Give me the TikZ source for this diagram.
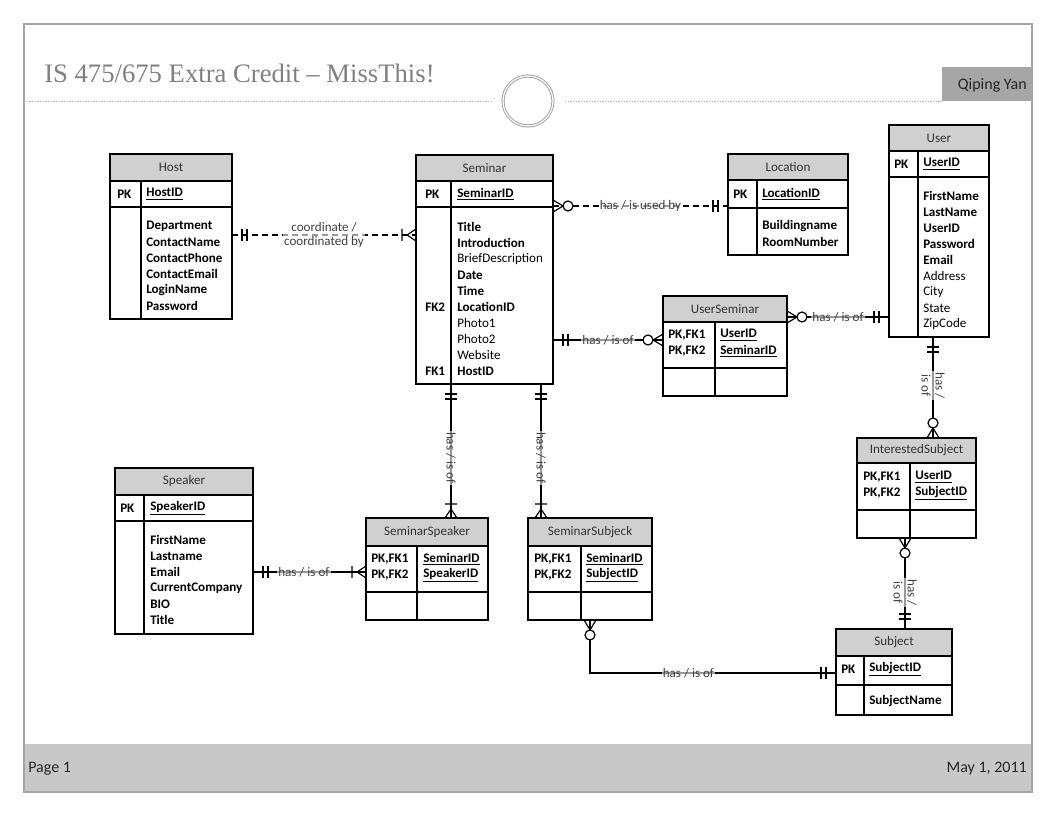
\documentclass[tikz,border=0pt]{standalone}
\usepackage{fontspec}
\setmainfont{Carlito}
\newfontfamily\titlefont{Liberation Serif}
\usetikzlibrary{calc,fit}

\definecolor{headfill}{HTML}{D0D0D0}
\definecolor{footfill}{HTML}{C8C8C8}
\definecolor{namefill}{HTML}{A6A6A6}
\definecolor{titlegray}{HTML}{808080}
\definecolor{labelgray}{HTML}{404040}

\tikzset{
  tblline/.style={draw=black, line width=0.9pt},
  headtext/.style={inner sep=0pt, text=black!80, font=\fontsize{9.8}{12}\selectfont},
  keytext/.style={anchor=west, inner sep=0pt, font=\fontsize{9.8}{12}\selectfont\bfseries},
  plaintext/.style={anchor=west, inner sep=0pt, font=\fontsize{9.8}{12}\selectfont},
  rel/.style={draw=black, line width=0.9pt},
  reldash/.style={rel, dash pattern=on 4.5pt off 3pt},
  lbl/.style={fill=white, fill opacity=0.6, text opacity=1, text=labelgray, inner sep=1pt,
    font=\fontsize{9.8}{10.5}\selectfont},
  endline/.style={draw=black, line width=0.9pt},
  mandone/.pic={\draw[endline] (10,-6) -- (10,6) (15,-6) -- (15,6);},
  onemany/.pic={\draw[endline] (0,-6) -- (9,0) -- (0,6) (14,-6) -- (14,6);},
  zeromany/.pic={\draw[endline] (0,-6) -- (10,0) -- (0,6);
    \draw[endline, fill=white] (15,0) circle[radius=5];},
}

% name, title, x1, y1, x2, y2, header bottom, key row bottom, divider
\newcommand{\entity}[9]{%
  \node[fit={(#3,#4) (#5,#6)}, inner sep=0pt, outer sep=0pt] (#1) {};
  \fill[headfill] (#3,#4) rectangle (#5,#7);
  \draw[tblline] (#3,#7) -- (#5,#7) (#3,#8) -- (#5,#8) (#9,#7) -- (#9,#6);
  \draw[tblline] (#3,#4) rectangle (#5,#6);
  \node[headtext] at ({(#3+#5)/2},{(#4+#7)/2}) {#2};
}

\begin{document}
\begin{tikzpicture}[x=0.75pt, y=-0.75pt]
  \useasboundingbox (0,0) rectangle (1056,816);

  % Page
  \fill[footfill] (24,744) rectangle (1032,792);
  \node[anchor=base west, inner sep=0pt, text=titlegray, font=\titlefont\fontsize{20}{24}\selectfont]
    (title) at (44,83) {IS 475/675 Extra Credit – MissThis!};
  \draw[gray!60, line width=0.5pt, dash pattern=on 1pt off 1pt] (24,101) -- (491,101);
  \draw[gray!60, line width=0.5pt, dash pattern=on 1pt off 1pt] (565,101) -- (942,101);
  \draw[gray!75, line width=0.7pt, double=white, double distance=0.9pt] (528,101) circle[radius=25];
  \fill[namefill] (942,67) rectangle (1032,101);
  \node[anchor=east, inner sep=0pt, text=black!85, font=\fontsize{12}{14}\selectfont]
    (author) at (1027,85) {Qiping Yan};
  \node[anchor=west, inner sep=0pt, text=black!85, font=\fontsize{12}{14}\selectfont]
    (page) at (28,769) {Page 1};
  \node[anchor=east, inner sep=0pt, text=black!85, font=\fontsize{12}{14}\selectfont]
    (date) at (1027,769) {May 1, 2011};
  \draw[gray!70, line width=0.8pt] (24,24) rectangle (1032,792);

  % Tables
  \entity{host}{Host}{110}{154}{232}{319}{181}{207}{141}
  \node[keytext] at (117,194) {PK};
  \node[keytext] at (146,194) {\underline{HostID}};
  \foreach \a [count=\i from 0] in {Department,ContactName,ContactPhone,ContactEmail,LoginName,Password}
    \node[keytext] at (146,{226+16*\i}) {\a};

  \entity{seminar}{Seminar}{416}{155}{553}{384}{181}{207}{451}
  \node[keytext] at (425,194) {PK};
  \node[keytext] at (457,194) {\underline{SeminarID}};
  \foreach \a [count=\i from 0] in {\textbf{Title},\textbf{Introduction},BriefDescription,\textbf{Date},
      \textbf{Time},\textbf{LocationID},Photo1,Photo2,Website,\textbf{HostID}}
    \node[plaintext] at (457,{227+16*\i}) {\a};
  \node[keytext] at (425,307) {FK2};
  \node[keytext] at (425,371) {FK1};

  \entity{location}{Location}{728}{154}{848}{255}{180}{208}{757}
  \node[keytext] at (733,194) {PK};
  \node[keytext] at (762,194) {\underline{LocationID}};
  \node[keytext] at (762,226) {Buildingname};
  \node[keytext] at (762,242) {RoomNumber};

  \entity{user}{User}{889}{125}{989}{337}{151}{177}{918}
  \node[keytext] at (894,164) {PK};
  \node[keytext] at (923,164) {\underline{UserID}};
  \foreach \a [count=\i from 0] in {\textbf{FirstName},\textbf{LastName},\textbf{UserID},\textbf{Password},
      \textbf{Email},Address,City,State,ZipCode}
    \node[plaintext] at (923,{196+16*\i}) {\a};

  \entity{userseminar}{UserSeminar}{663}{296}{787}{396}{322}{368}{715}
  \node[keytext] at (668,335) {PK,FK1};
  \node[keytext] at (668,351) {PK,FK2};
  \node[keytext] at (720,335) {\underline{UserID}};
  \node[keytext] at (720,351) {\underline{SeminarID}};

  \entity{interested}{InterestedSubject}{857}{438}{976}{538}{463}{510}{910}
  \node[keytext] at (863,477) {PK,FK1};
  \node[keytext] at (863,493) {PK,FK2};
  \node[keytext] at (915,477) {\underline{UserID}};
  \node[keytext] at (915,493) {\underline{SubjectID}};

  \entity{semspeaker}{SeminarSpeaker}{366}{518}{488}{620}{546}{592}{417}
  \node[keytext] at (371,559) {PK,FK1};
  \node[keytext] at (371,575) {PK,FK2};
  \node[keytext] at (423,559) {\underline{SeminarID}};
  \node[keytext] at (423,575) {\underline{SpeakerID}};

  \entity{semsubject}{SeminarSubjeck}{528}{518}{652}{620}{546}{592}{581}
  \node[keytext] at (534,559) {PK,FK1};
  \node[keytext] at (534,575) {PK,FK2};
  \node[keytext] at (586,559) {\underline{SeminarID}};
  \node[keytext] at (586,575) {\underline{SubjectID}};

  \entity{speaker}{Speaker}{115}{468}{253}{634}{495}{521}{144}
  \node[keytext] at (120,508) {PK};
  \node[keytext] at (150,508) {\underline{SpeakerID}};
  \foreach \a [count=\i from 0] in {FirstName,Lastname,Email,CurrentCompany,BIO,Title}
    \node[keytext] at (150,{540+16*\i}) {\a};

  \entity{subject}{Subject}{836}{629}{952}{715}{656}{685}{864}
  \node[keytext] at (841,669) {PK};
  \node[keytext] at (869,669) {\underline{SubjectID}};
  \node[keytext] at (869,701) {SubjectName};

  % Relationships
  \draw[reldash] (host.east |- 0,235) -- node[lbl, align=center] {coordinate /\\coordinated by} (seminar.west |- 0,235);
  \pic at (host.east |- 0,235) {mandone};
  \pic[rotate=180] at (seminar.west |- 0,235) {onemany};

  \draw[reldash] (seminar.east |- 0,206) -- node[lbl] {has / is used by} (location.west |- 0,206);
  \pic at (seminar.east |- 0,206) {zeromany};
  \pic[rotate=180] at (location.west |- 0,206) {mandone};

  \draw[rel] (seminar.east |- 0,340) -- node[lbl] {has / is of} (userseminar.west |- 0,340);
  \pic at (seminar.east |- 0,340) {mandone};
  \pic[rotate=180] at (userseminar.west |- 0,340) {zeromany};

  \draw[rel] (userseminar.east |- 0,317) -- node[lbl] {has / is of} (user.west |- 0,317);
  \pic at (userseminar.east |- 0,317) {zeromany};
  \pic[rotate=180] at (user.west |- 0,317) {mandone};

  \draw[rel] (user.south -| 933,0) -- node[lbl, rotate=-90, align=center, pos=0.48] {has /\\is of} (interested.north -| 933,0);
  \pic[rotate=-90] at (user.south -| 933,0) {mandone};
  \pic[rotate=90] at (interested.north -| 933,0) {zeromany};

  \draw[rel] (interested.south -| 905,0) -- node[lbl, rotate=-90, align=center, pos=0.6] {has /\\is of} (subject.north -| 905,0);
  \pic[rotate=-90] at (interested.south -| 905,0) {zeromany};
  \pic[rotate=90] at (subject.north -| 905,0) {mandone};

  \draw[rel] (seminar.south -| 451,0) -- node[lbl, rotate=-90, pos=0.55] {has / is of} (semspeaker.north -| 451,0);
  \pic[rotate=-90] at (seminar.south -| 451,0) {mandone};
  \pic[rotate=90] at (semspeaker.north -| 451,0) {onemany};

  \draw[rel] (seminar.south -| 541,0) -- node[lbl, rotate=-90, pos=0.55] {has / is of} (semsubject.north -| 541,0);
  \pic[rotate=-90] at (seminar.south -| 541,0) {mandone};
  \pic[rotate=90] at (semsubject.north -| 541,0) {onemany};

  \draw[rel] (speaker.east |- 0,572) -- node[lbl, pos=0.45] {has / is of} (semspeaker.west |- 0,572);
  \pic at (speaker.east |- 0,572) {mandone};
  \pic[rotate=180] at (semspeaker.west |- 0,572) {onemany};

  \draw[rel] (semsubject.south -| 590,0) |- node[lbl, pos=0.7] {has / is of} (subject.west |- 0,673);
  \pic[rotate=-90] at (semsubject.south -| 590,0) {zeromany};
  \pic[rotate=180] at (subject.west |- 0,673) {mandone};
\end{tikzpicture}
\end{document}
